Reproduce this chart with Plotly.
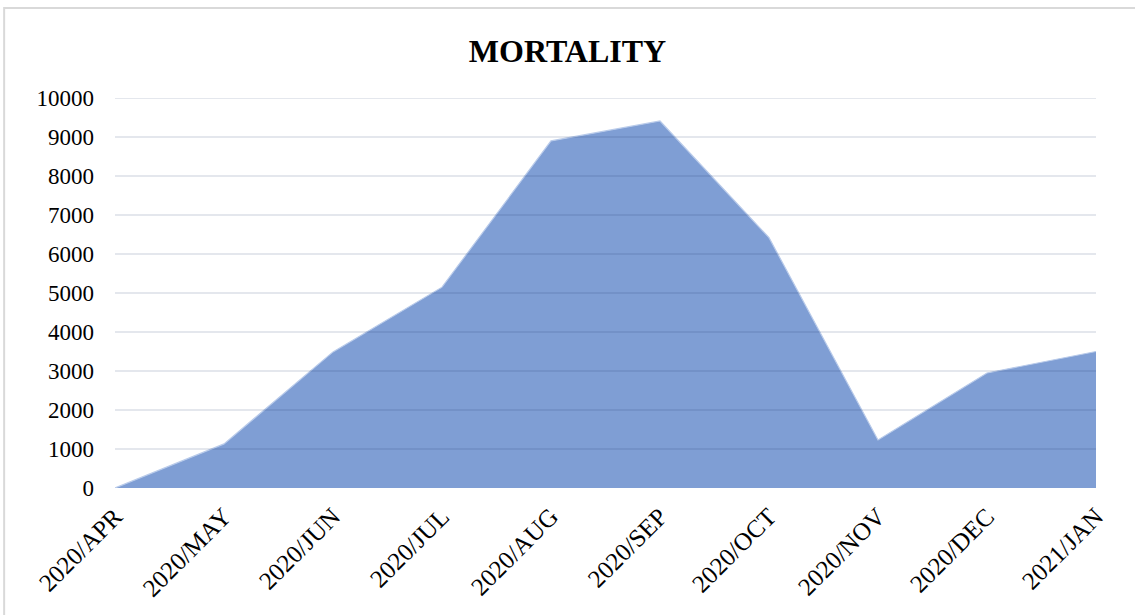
import plotly.graph_objects as go

months = ["2020/APR", "2020/MAY", "2020/JUN", "2020/JUL", "2020/AUG",
          "2020/SEP", "2020/OCT", "2020/NOV", "2020/DEC", "2021/JAN"]
mortality = [0, 1130, 3490, 5150, 8900, 9410, 6420, 1230, 2950, 3500]
y_ticks = [0, 1000, 2000, 3000, 4000, 5000, 6000, 7000, 8000, 9000, 10000]
y_ticktext = [str(v) for v in y_ticks]

FONT = "Liberation Serif, Times New Roman, serif"

fig = go.Figure()
fig.add_trace(go.Scatter(
    x=months, y=mortality, mode="lines", fill="tozeroy",
    fillcolor="#7f9ed4", line=dict(color="#b9cbea", width=1.2),
    hoverinfo="x+y", showlegend=False,
))

shapes = []
for v in y_ticks[1:]:
    shapes.append(dict(type="line", xref="paper", yref="y", x0=0, x1=1, y0=v, y1=v,
                       line=dict(color="rgba(30,50,100,0.16)", width=1.5), layer="above"))
# chart frame
shapes.append(dict(type="rect", xref="paper", yref="paper", x0=-0.113, x1=1.06,
                   y0=-0.36, y1=1.231, line=dict(color="#d9d9d9", width=2),
                   fillcolor="rgba(0,0,0,0)", layer="below"))

fig.update_layout(
    width=1135, height=615,
    margin=dict(l=115, r=39, t=98, b=127, autoexpand=False),
    paper_bgcolor="white", plot_bgcolor="white",
    font=dict(family=FONT, size=23, color="black"),
    title=dict(text="<b>MORTALITY</b>", x=0.5, xanchor="center", y=0.918, yanchor="middle",
               font=dict(family=FONT, size=32, color="black")),
    shapes=shapes,
    xaxis=dict(range=[0, 9], showgrid=False, tickangle=-45, ticks="", automargin=False,
               showline=False, zeroline=False, ticklabelstandoff=8,
               tickfont=dict(family=FONT, size=25)),
    yaxis=dict(range=[0, 10000], tickvals=y_ticks, ticktext=y_ticktext, showgrid=False,
               automargin=False, zeroline=False, showline=False, ticks="",
               ticklabelstandoff=20, tickfont=dict(family=FONT, size=23)),
)

fig.write_html("out.html", config={"displayModeBar": False},
               post_script="document.body.style.margin='0';")
